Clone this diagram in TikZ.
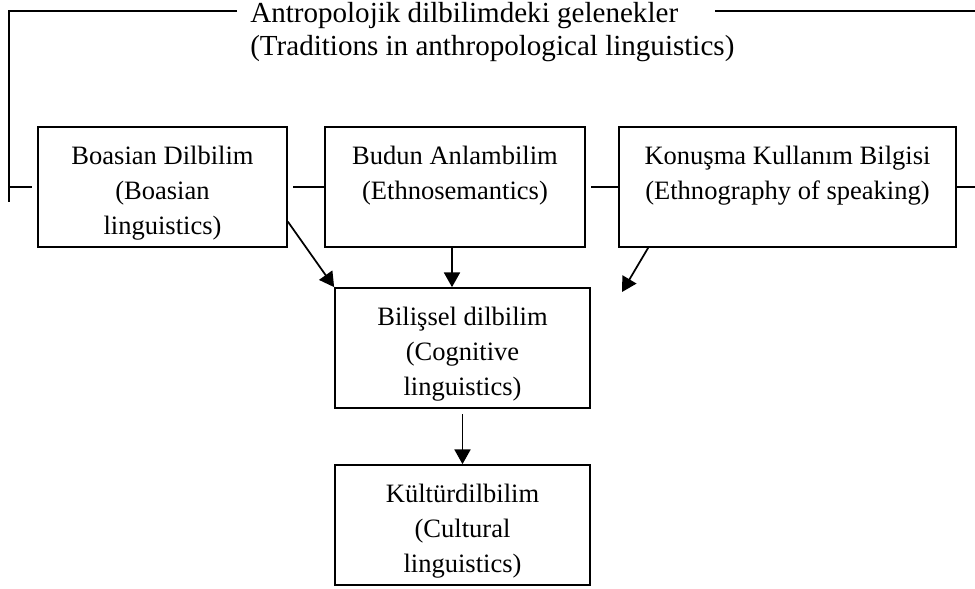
\documentclass[tikz,border=0pt]{standalone}
\usepackage{fontspec}
\setmainfont{Liberation Serif}
\usetikzlibrary{arrows.meta}
\newcommand{\firstline}{\rule{0pt}{23pt}}
\tikzset{
  txt/.style={inner sep=0pt, font=\fontsize{21.8}{25.9}\selectfont},
  box/.style={draw, inner sep=0pt, line width=1.3pt, minimum height=90pt, align=center,
    font=\fontsize{19.9}{25.9}\selectfont},
  link/.style={line width=1.3pt},
  arr/.style={line width=1.3pt, -{Triangle[length=11pt,width=12pt]}},
}
\begin{document}
\begin{tikzpicture}[x=0.75pt,y=-0.75pt]
    \useasboundingbox (0,0) rectangle (975,589);
    % heading
    \node [txt, anchor=base west] (title) at (250,22) {Antropolojik dilbilimdeki gelenekler};
    \node [txt, anchor=base west] (subtitle) at (250,55) {(Traditions in anthropological linguistics)};
    % boxes
    \node [box, minimum width=186.75pt] (boas) at (162.5,187) {\firstline Boasian Dilbilim\\(Boasian\\linguistics)};
    \node [box, minimum width=195pt] (budun) at (455,187) {\firstline Budun Anlambilim\\(Ethnosemantics)\\\phantom{()}};
    \node [box, minimum width=252.75pt] (konus) at (787.5,187) {\firstline Konuşma Kullanım Bilgisi\\(Ethnography of speaking)\\\phantom{()}};
    \node [box, minimum width=191.25pt] (bilis) at (462.5,348) {\firstline Bilişsel dilbilim\\(Cognitive\\linguistics)};
    \node [box, minimum width=191.25pt] (kultur) at (462.5,525) {\firstline Kültürdilbilim\\(Cultural\\linguistics)};
    % bracket
    \coordinate (corner) at (9,11);
    \coordinate (leftEnd) at (9,202);
    \coordinate (rightEnd) at (975,11);
    \coordinate (konusEnd) at (622,292);
    \draw [link] ([xshift=-9.75pt]title.west |- corner) -- (corner) -- (leftEnd);
    \draw [link] ([xshift=27.75pt]title.east |- corner) -- (rightEnd);
    \draw [link] (corner |- boas.west) -- ([xshift=-4pt]boas.west);
    \draw [link] ([xshift=4pt]boas.east) -- (budun.west);
    \draw [link] ([xshift=4pt]budun.east) -- (konus.west);
    \draw [link] (konus.east) -- (rightEnd |- konus.east);
    % arrows
    \draw [arr] ([yshift=-26pt]boas.east) -- (bilis.north west);
    \draw [arr] ([xshift=-2.25pt]budun.south) -- ([xshift=-2.25pt]budun.south |- bilis.north);
    \draw [arr] ([xshift=22.5pt]konus.south west) -- (konusEnd);
    \draw [arr] ([yshift=-4pt]bilis.south) -- (kultur.north);
\end{tikzpicture}
\end{document}
